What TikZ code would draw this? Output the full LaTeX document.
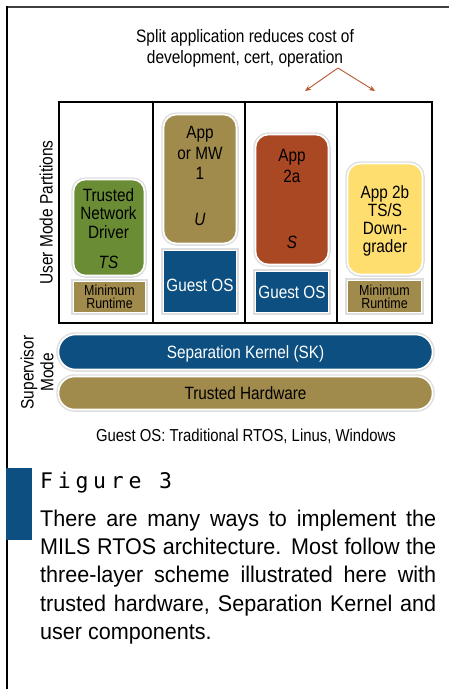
\documentclass[tikz,border=0pt]{standalone}
\usepackage{fontspec}
\setmainfont{Liberation Sans}[FakeStretch=0.86]
\newfontfamily\bodyfont{Liberation Sans}[FakeStretch=0.95]
\newfontfamily\figfont{DejaVu Sans Mono}[LetterSpace=22]
\usetikzlibrary{arrows.meta}
\definecolor{skblue}{RGB}{12,79,128}
\definecolor{tan}{RGB}{161,139,76}
\definecolor{tgreen}{RGB}{106,140,52}
\definecolor{rust}{RGB}{170,72,36}
\definecolor{pyellow}{RGB}{254,222,110}
\definecolor{arrowc}{RGB}{181,86,46}
\begin{document}
\begin{tikzpicture}[x=1pt,y=-1pt,
  box/.style={draw=white, line width=1.6pt, inner sep=0pt, outer sep=0pt,
    preaction={draw=black!13, line width=4.5pt}},
  rbox/.style={box, rounded corners=#1},
  lbl/.style={anchor=base, inner sep=0pt, outer sep=0pt, font=\fontsize{17.8}{18}\selectfont},
  slbl/.style={anchor=base, inner sep=0pt, outer sep=0pt, font=\fontsize{14.5}{14}\selectfont},
  wlbl/.style={lbl, text=white},
  arr/.style={draw=arrowc, line width=0.9pt, -{Stealth[length=6pt,width=5pt]}},
]
\useasboundingbox (0,0) rectangle (449,689);
% outer frame lines
\draw[black!75, line width=2pt] (7,7) -- (449,7);
\draw[black, line width=2pt] (7,6) -- (7,689);

% title
\node[lbl, font=\fontsize{18}{20}\selectfont] (t1) at (245,42.5) {Split application reduces cost of};
\node[lbl, font=\fontsize{18}{20}\selectfont] (t2) at (245,63.3) {development, cert, operation};
\coordinate (apex) at (338,68);
\coordinate (a1) at (305,91);
\coordinate (a2) at (375,91);
\draw[arr] (apex) -- (a1);
\draw[arr] (apex) -- (a2);

% partition frame
\draw[black, line width=2pt] (59,102) rectangle (432,323);
\draw[black, line width=2pt] (153,102) -- (153,323);
\draw[black, line width=2pt] (245,102) -- (245,323);
\draw[black, line width=2pt] (337,102) -- (337,323);

% column 1
\node[rbox=12pt, fill=tgreen, minimum width=71pt, minimum height=96pt] (tnd) at (109,227.5) {};
\node[lbl] (tnd1) at (108.5,201.5) {Trusted};
\node[lbl] (tnd2) at (108.5,219.5) {Network};
\node[lbl] (tnd3) at (108.5,238.5) {Driver};
\node[lbl, font=\fontsize{17.8}{18}\selectfont\itshape] (tnd4) at (108.5,268.5) {TS};
\node[box, fill=tan, minimum width=72pt, minimum height=31pt] (mr1) at (109.5,297) {};
\node[slbl] (mr1a) at (109.5,295.5) {Minimum};
\node[slbl] (mr1b) at (109.5,308.5) {Runtime};

% column 2
\node[rbox=13pt, fill=tan, minimum width=73pt, minimum height=129pt] (app1) at (200,179) {};
\node[lbl] (app1a) at (200,138) {App};
\node[lbl] (app1b) at (200,159.5) {or MW};
\node[lbl] (app1c) at (200,179.5) {1};
\node[lbl, font=\fontsize{17.8}{18}\selectfont\itshape] (app1d) at (200,225.5) {U};
\node[box, fill=skblue, minimum width=73pt, minimum height=62pt] (gos1) at (200,281.5) {};
\node[wlbl] (gos1t) at (200,291.5) {Guest OS};

% column 3
\node[rbox=13pt, fill=rust, minimum width=73pt, minimum height=130pt] (app2a) at (292,199.5) {};
\node[lbl] (app2aa) at (292,161.5) {App};
\node[lbl] (app2ab) at (292,182.5) {2a};
\node[lbl, font=\fontsize{17.8}{18}\selectfont\itshape] (app2ac) at (292,248.5) {S};
\node[box, fill=skblue, minimum width=73pt, minimum height=41pt] (gos2) at (292,292) {};
\node[wlbl] (gos2t) at (292,298.5) {Guest OS};

% column 4
\node[rbox=13pt, fill=pyellow, minimum width=75pt, minimum height=111pt] (app2b) at (385,219) {};
\node[lbl] (app2ba) at (385,198.5) {App 2b};
\node[lbl] (app2bb) at (385,216.5) {TS/S};
\node[lbl] (app2bc) at (385,234.5) {Down-};
\node[lbl] (app2bd) at (385,252.8) {grader};
\node[box, fill=tan, minimum width=74pt, minimum height=32pt] (mr2) at (384.5,296.5) {};
\node[slbl] (mr2a) at (384.5,295.5) {Minimum};
\node[slbl] (mr2b) at (384.5,308.5) {Runtime};

% side labels
\node[anchor=base, inner sep=0pt, rotate=90, font=\fontsize{18}{18}\selectfont] (ump) at (52.7,212.5) {User Mode Partitions};
\node[anchor=base, inner sep=0pt, rotate=90, font=\fontsize{18}{18}\selectfont] (sup1) at (33.7,372.5) {Supervisor};
\node[anchor=base, inner sep=0pt, rotate=90, font=\fontsize{18}{18}\selectfont] (sup2) at (53.3,372.5) {Mode};

% kernel and hardware
\node[rbox=17pt, fill=skblue, minimum width=374pt, minimum height=35pt] (sk) at (245.5,352) {};
\node[wlbl] (skt) at (245.5,358) {Separation Kernel (SK)};
\node[rbox=16pt, fill=tan, minimum width=374pt, minimum height=33pt] (hw) at (245.5,393) {};
\node[lbl] (hwt) at (245.5,399) {Trusted Hardware};

\node[lbl, font=\fontsize{17.3}{18}\selectfont] (cap) at (246,441.5) {Guest OS: Traditional RTOS, Linus, Windows};

% figure caption
\fill[skblue] (6,468) rectangle (32,540);
\node[anchor=base west, inner sep=0pt, font=\figfont\fontsize{21.5}{20}\selectfont] (fig) at (40,488.3) {Figure 3};
\begin{scope}[every node/.style={anchor=base west, inner sep=0pt, font=\bodyfont\fontsize{22.7}{27}\selectfont}]
\node (b1) at (40,526) {\makebox[396pt][s]{There are many ways to implement the}};
\node (b2) at (40,554.3) {\makebox[396pt][s]{MILS RTOS architecture. Most follow the}};
\node (b3) at (40,582.7) {\makebox[396pt][s]{three-layer scheme illustrated here with}};
\node (b4) at (40,611) {\makebox[396pt][s]{trusted hardware, Separation Kernel and}};
\node (b5) at (40,639.5) {user components.};
\end{scope}
\end{tikzpicture}
\end{document}
